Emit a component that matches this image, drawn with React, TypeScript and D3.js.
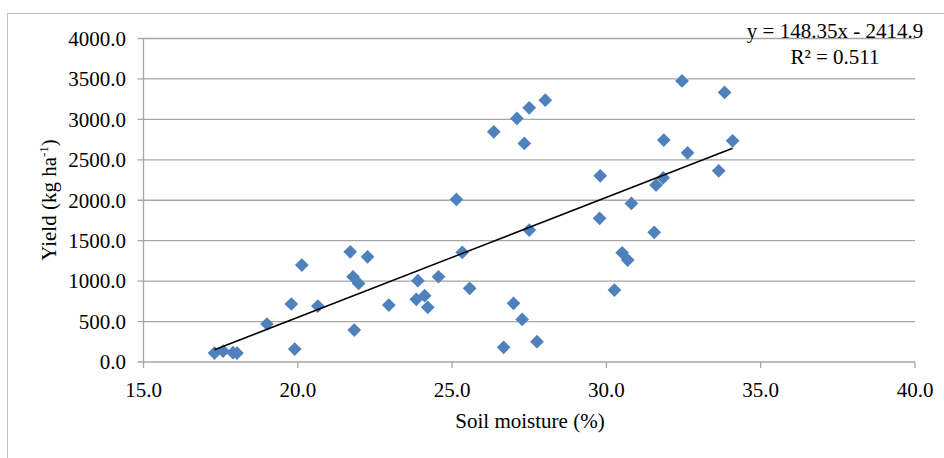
import React from 'react';
import * as d3 from 'd3';

// soil moisture (%) and yield (kg/ha)
const moisture = [
  17.30, 17.58, 17.90, 18.03, 19.00, 19.79, 19.90, 20.13, 20.65, 21.70,
  21.79, 21.97, 21.83, 22.26, 22.95, 23.89, 23.84, 24.11, 24.21, 24.56,
  25.33, 25.57, 25.14, 26.35, 27.10, 27.50, 28.02, 27.34, 27.50, 26.99,
  27.27, 26.67, 27.75, 29.80, 29.78, 30.81, 31.55, 30.51, 30.69, 30.26,
  31.61, 31.84, 31.86, 32.63, 32.45, 33.83, 34.09, 33.64
];
const yieldKg = [
  110, 135, 115, 110, 470, 717, 160, 1199, 692, 1363,
  1054, 972, 395, 1301, 704, 1005, 775, 820, 676, 1054,
  1356, 911, 2010, 2846, 3012, 3143, 3238, 2703, 1631, 725,
  527, 181, 251, 2302, 1776, 1961, 1603, 1351, 1261, 890,
  2188, 2278, 2744, 2587, 3476, 3333, 2735, 2364
];
const xTicks = [15, 20, 25, 30, 35, 40];
const yTicks = [0, 500, 1000, 1500, 2000, 2500, 3000, 3500, 4000];
const slope = 148.35;
const intercept = -2414.9;
const equation = 'y = 148.35x - 2414.9';
const rSquared = 'R² = 0.511';

export default function App() {
  const width = 944, height = 458;
  const left = 143.5, right = 915, top = 38.5, bottom = 362;
  const font = "'Liberation Serif', 'Times New Roman', serif";
  const grid = '#a6a6a6';

  const x = d3.scaleLinear().domain([15, 40]).range([left, right]);
  const y = d3.scaleLinear().domain([0, 4000]).range([bottom, top]);
  const fmt = d3.format('.1f');

  const points = moisture.map((m, i) => ({ m, v: yieldKg[i] }));
  const [xMin, xMax] = d3.extent(moisture) as [number, number];
  const trend = d3.line<number>()
    .x(d => x(d))
    .y(d => y(slope * d + intercept));

  // symbolDiamond2 is a square turned on its corner
  const diamond = d3.symbol().type(d3.symbolDiamond2).size(120)();

  return (
    <svg width={width} height={height}
      style={{ position: 'absolute', left: 0, top: 0, background: '#fff', fontFamily: font }}>
      <rect x={7.5} y={13.5} width={width} height={height} fill="#fff" stroke="#bfbfbf" />

      {yTicks.map(t => (
        <g key={t}>
          <line x1={left - 6} x2={right} y1={y(t)} y2={y(t)} stroke={grid} strokeWidth={1.3} />
          <text x={126} y={y(t)} dy="0.35em" textAnchor="end" fontSize={21} fill="#000">{fmt(t)}</text>
        </g>
      ))}
      <line x1={left} x2={left} y1={top} y2={bottom} stroke={grid} strokeWidth={1.3} />

      {xTicks.map(t => (
        <g key={t}>
          <line x1={x(t)} x2={x(t)} y1={bottom} y2={bottom + 6} stroke={grid} strokeWidth={1.3} />
          <text x={x(t)} y={397} textAnchor="middle" fontSize={21} fill="#000">{fmt(t)}</text>
        </g>
      ))}

      {points.map((p, i) => (
        <path key={i} d={diamond ?? ''} transform={`translate(${x(p.m)},${y(p.v)})`} fill="#4f81bd" />
      ))}

      <path d={trend([xMin, xMax]) ?? ''} fill="none" stroke="#000" strokeWidth={1.5} />

      <text x={835} y={38} textAnchor="middle" fontSize={21} fill="#000">{equation}</text>
      <text x={835} y={64} textAnchor="middle" fontSize={21} fill="#000">{rSquared}</text>

      <text x={530} y={428} textAnchor="middle" fontSize={21} fill="#000">Soil moisture (%)</text>
      <text transform="translate(56,200) rotate(-90)" textAnchor="middle" fontSize={21} fill="#000">
        Yield (kg ha<tspan fontSize={13} dy={-8}>-1</tspan><tspan dy={8}>)</tspan>
      </text>
    </svg>
  );
}
